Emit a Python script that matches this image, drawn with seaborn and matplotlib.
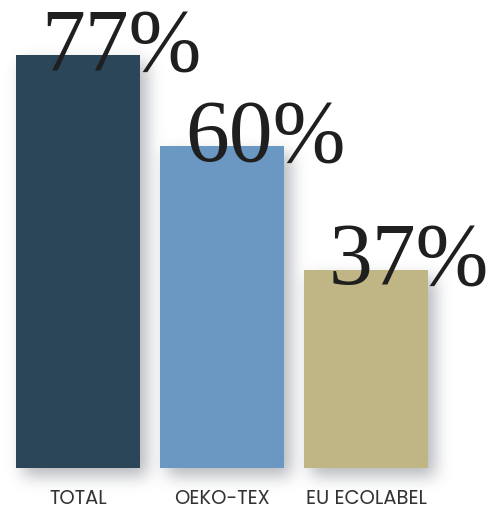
import matplotlib
matplotlib.use("Agg")
import matplotlib.pyplot as plt
import numpy as np
import seaborn as sns
import pandas as pd

categories = ["TOTAL", "OEKO-TEX", "EU ECOLABEL"]
values = [77, 60, 37]
labels = ["77%", "60%", "37%"]
colors = ["#2b4659", "#6b98c3", "#bfb585"]

sns.set_style("white")
plt.rcParams["font.family"] = ["Poppins", "Lato", "DejaVu Sans"]

W, H = 489, 508
PX_PER_UNIT = 5.36
fig = plt.figure(figsize=(W / 100, H / 100), dpi=100)
fig.patch.set_facecolor("white")

# axes spans categories -0.5..2.5 horizontally, baseline 40 px above figure bottom
ax = fig.add_axes([6 / W, 40 / H, 432 / W, 468 / H])
ax.set_facecolor("none")
df = pd.DataFrame({"cat": categories, "val": values})
sns.barplot(data=df, x="cat", y="val", hue="cat", palette=colors,
            width=0.861, saturation=1, legend=False, ax=ax, zorder=3,
            linewidth=0, edgecolor="none")
ax.set_xlim(-0.5, 2.5)
ax.set_ylim(0, 468 / PX_PER_UNIT)


def gauss_blur(a, sigma):
    r = int(3 * sigma)
    k = np.exp(-0.5 * (np.arange(-r, r + 1) / sigma) ** 2)
    k /= k.sum()
    a = np.apply_along_axis(lambda m: np.convolve(m, k, mode="same"), 0, a)
    a = np.apply_along_axis(lambda m: np.convolve(m, k, mode="same"), 1, a)
    return a


# soft drop shadow behind the bars, rendered as a blurred figure image
mask = np.zeros((H, W))
dx, dy = 7, -8
for patch in ax.patches[:3]:
    bb = patch.get_window_extent()
    x0, x1 = int(round(bb.x0)) + dx, int(round(bb.x1)) + dx
    y0, y1 = int(round(bb.y0)) + dy, int(round(bb.y1)) + dy
    mask[max(y0, 0):min(y1, H), max(x0, 0):min(x1, W)] = 1.0
alpha = gauss_blur(mask, 8) * 0.45
rgba = np.zeros((H, W, 4))
rgba[..., 0] = 0.36
rgba[..., 1] = 0.38
rgba[..., 2] = 0.42
rgba[..., 3] = alpha
fig.figimage(rgba, 0, 0, origin="lower", zorder=-1)

# big value labels above each bar
for i, (v, lab) in enumerate(zip(values, labels)):
    xl = i - 0.861 / 2 + 25 / 144
    ax.text(xl, v - 14 / PX_PER_UNIT, lab, family="Liberation Serif", fontsize=63,
            color="#1f1f1f", ha="left", va="baseline", zorder=5, clip_on=False)

for s in ax.spines.values():
    s.set_visible(False)
ax.set_yticks([])
ax.set_xlabel("")
ax.set_ylabel("")
ax.tick_params(axis="x", length=0, pad=15, labelsize=14, labelcolor="#333333")

fig.savefig("out.png", dpi=100, facecolor="white")
